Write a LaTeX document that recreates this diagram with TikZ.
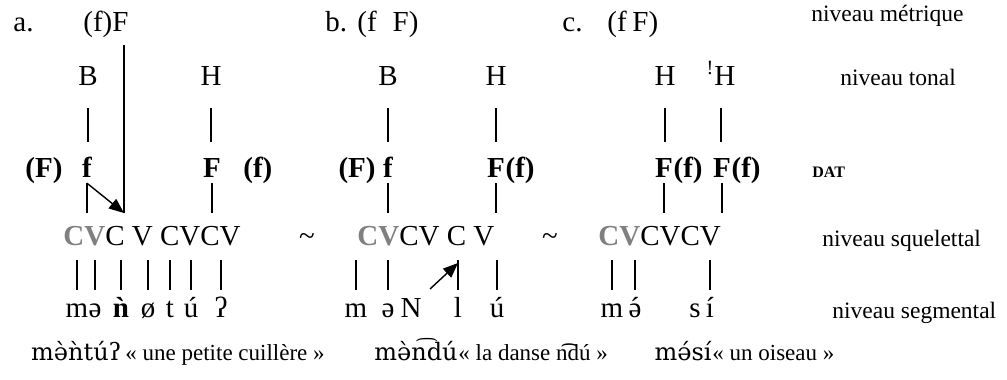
\documentclass[tikz,border=0pt]{standalone}
\usepackage{fontspec}
\setmainfont{Liberation Serif}
\newfontfamily\ipafont{DejaVu Serif}
\usetikzlibrary{arrows.meta}
\definecolor{cvgrey}{RGB}{128,128,128}

\begin{document}
\begin{tikzpicture}[x=0.5pt, y=-0.5pt,
    every node/.style={inner sep=0pt, anchor=base},
    big/.style={font=\fontsize{14.5}{17}\selectfont},
    met/.style={big, anchor=base west, text depth=0pt},
    tone/.style={big, text height=9.6pt, text depth=0pt},
    dat/.style={font=\fontsize{14.5}{17}\selectfont\bfseries, text height=10.2pt, text depth=2.9pt},
    skel/.style={big, anchor=base west, text height=9.6pt, text depth=0pt},
    seg/.style={big, text height=6.5pt, text depth=0pt},
    lab/.style={font=\fontsize{11.75}{14}\selectfont, anchor=base west},
    gloss/.style={font=\fontsize{11.5}{14}\selectfont, anchor=base west},
    ipa/.style={font=\fontsize{12}{14}\ipafont, anchor=base east},
    link/.style={line width=0.7pt},
    tl/.style={link, shorten <=11.5pt, shorten >=7.3pt},
    sl/.style={link, shorten >=6.4pt},
    gl/.style={link, shorten <=7.5pt, shorten >=7pt},
    arr/.style={link, -{Triangle[length=7.5pt, width=6pt]}}
]
\useasboundingbox (0,0) rectangle (1007,380);

% niveau metrique
\node[met] (labA) at (13,32) {a.};
\node[met] (metA) at (83,32) {(f)F};
\node[met] (labB) at (325,32) {b.};
\node[met] (metB) at (357,32) {(f\hspace{0.55em}F)};
\node[met] (labC) at (562,32) {c.};
\node[met] (metC) at (607,32) {(f\hspace{0.2em}F)};

% niveau tonal
\node[tone] (ta1) at (88,85) {B};
\node[tone] (ta2) at (211,85) {H};
\node[tone] (tb1) at (388,85) {B};
\node[tone] (tb2) at (496,85) {H};
\node[tone] (tc1) at (665,85) {H};
\node[tone] (tc2) at (721,85) {\textsuperscript{!}H};

% DAT
\node[dat, anchor=base west] (da1) at (25,177) {(F)};
\node[dat] (da2) at (87,177) {f};
\node[dat] (da3) at (212,177) {F};
\node[dat, anchor=base west] (da4) at (243,177) {(f)};
\node[dat] (db2) at (388,177) {f};
\node[dat, anchor=base east] (db1) at (376,177) {(F)};
\node[dat] (db3) at (496,177) {F};
\node[dat, anchor=base west] (db4) at (db3.base east) {(f)};
\node[dat] (dc1) at (664,177) {F};
\node[dat, anchor=base west] (dc2) at (dc1.base east) {(f)};
\node[dat] (dc3) at (722,177) {F};
\node[dat, anchor=base west] (dc4) at (dc3.base east) {(f)};

% niveau squelettal
\node[skel] (skA) at (63,245) {\textbf{\color{cvgrey}CV}C V CVCV};
\node[big] (tildeA) at (307,245) {\textasciitilde};
\node[skel] (skB) at (357,245) {\textbf{\color{cvgrey}CV}CV C V};
\node[big] (tildeB) at (550,245) {\textasciitilde};
\node[skel] (skC) at (598,245) {\textbf{\color{cvgrey}CV}CVCV};

% niveau segmental
\node[seg] (sa1) at (77,317) {m};
\node[seg] (sa2) at (95,317) {ə};
\node[seg, font=\fontsize{14.5}{17}\selectfont\bfseries] (sa3) at (121,317) {ǹ};
\node[seg] (sa4) at (148,317) {ø};
\node[seg] (sa5) at (170,317) {t};
\node[seg] (sa6) at (191,317) {ú};
\node[seg] (sa7) at (221,317) {ʔ};
\node[seg] (sb1) at (356,317) {m};
\node[seg] (sb2) at (388,317) {ə};
\node[seg] (sb3) at (411,317) {N};
\node[seg] (sb4) at (458,317) {l};
\node[seg] (sb5) at (497,317) {ú};
\node[seg] (sc1) at (612,317) {m};
\node[seg] (sc2) at (635,317) {\accent"B4 ə};
\node[seg] (sc3) at (695,317) {s};
\node[seg] (sc4) at (710,317) {í};

% labels
\node[lab] (lmet) at (811,21) {niveau métrique};
\node[lab] (lton) at (840,85) {niveau tonal};
\node[lab, font=\fontsize{8}{10}\selectfont\bfseries] (ldat) at (812,177) {DAT};
\node[lab] (lsqu) at (822,246) {niveau squelettal};
\node[lab] (lseg) at (832,318) {niveau segmental};

% gloses
\node[gloss] (qa) at (125,360) {« une petite cuillère »};
\node[ipa] (wa) at ([xshift=-1.5pt]qa.base west) {mə̀ǹtúʔ};
\node[gloss] (qb) at (458,360) {« la danse n͡dú »};
\node[ipa] (wb) at (qb.base west) {mə̀n͡dú};
\node[gloss] (qc) at (712,360) {« un oiseau »};
\node[ipa] (wc) at (qc.base west) {mə́sí};

\coordinate (tipA) at (124,213);
\coordinate (tailB) at (430,289);
\coordinate (tipB) at (458,263);

% tonal -> DAT
\draw[tl] (ta1.south) -- (ta1.south |- da2.north);
\draw[tl] (ta2.south) -- (ta2.south |- da3.north);
\draw[tl] (tb1.south) -- (tb1.south |- db2.north);
\draw[tl] (tb2.south) -- (tb2.south |- db3.north);
\draw[tl] (tc1.south) -- (tc1.south |- dc1.north);
\draw[tl] (tc2.south) -- (tc2.south |- dc3.north);

% DAT -> squelette
\draw[link, shorten <=6.5pt] (tipA |- metA.south) -- (tipA);
\draw[link] (da2.south) -- (da2.south |- tipA);
\draw[arr] (da2.south) -- (tipA);
\draw[sl] (da3.south) -- (da3.south |- skA.north);
\draw[sl] (db2.south) -- (db2.south |- skB.north);
\draw[sl] (db3.south) -- (db3.south |- skB.north);
\draw[sl] (dc1.south) -- (dc1.south |- skC.north);
\draw[sl] (dc3.south) -- (dc3.south |- skC.north);

% squelette -> segments
\draw[gl] (sa1 |- skA.south) -- (sa1.north);
\draw[gl] (sa2 |- skA.south) -- (sa2.north);
\draw[gl] (sa3 |- skA.south) -- (sa3.north);
\draw[gl] (sa4 |- skA.south) -- (sa4.north);
\draw[gl] (sa5 |- skA.south) -- (sa5.north);
\draw[gl] (sa6 |- skA.south) -- (sa6.north);
\draw[gl] (sa7 |- skA.south) -- (sa7.north);
\draw[gl] (sb1 |- skB.south) -- (sb1.north);
\draw[gl] (sb2 |- skB.south) -- (sb2.north);
\draw[gl] (sb4 |- skB.south) -- (sb4.north);
\draw[gl] (sb5 |- skB.south) -- (sb5.north);
\draw[arr] (tailB) -- (tipB);
\draw[gl] (sc1 |- skC.south) -- (sc1.north);
\draw[gl] (sc2 |- skC.south) -- (sc2.north);
\draw[gl] (sc4 |- skC.south) -- (sc4.north);
\end{tikzpicture}
\end{document}
